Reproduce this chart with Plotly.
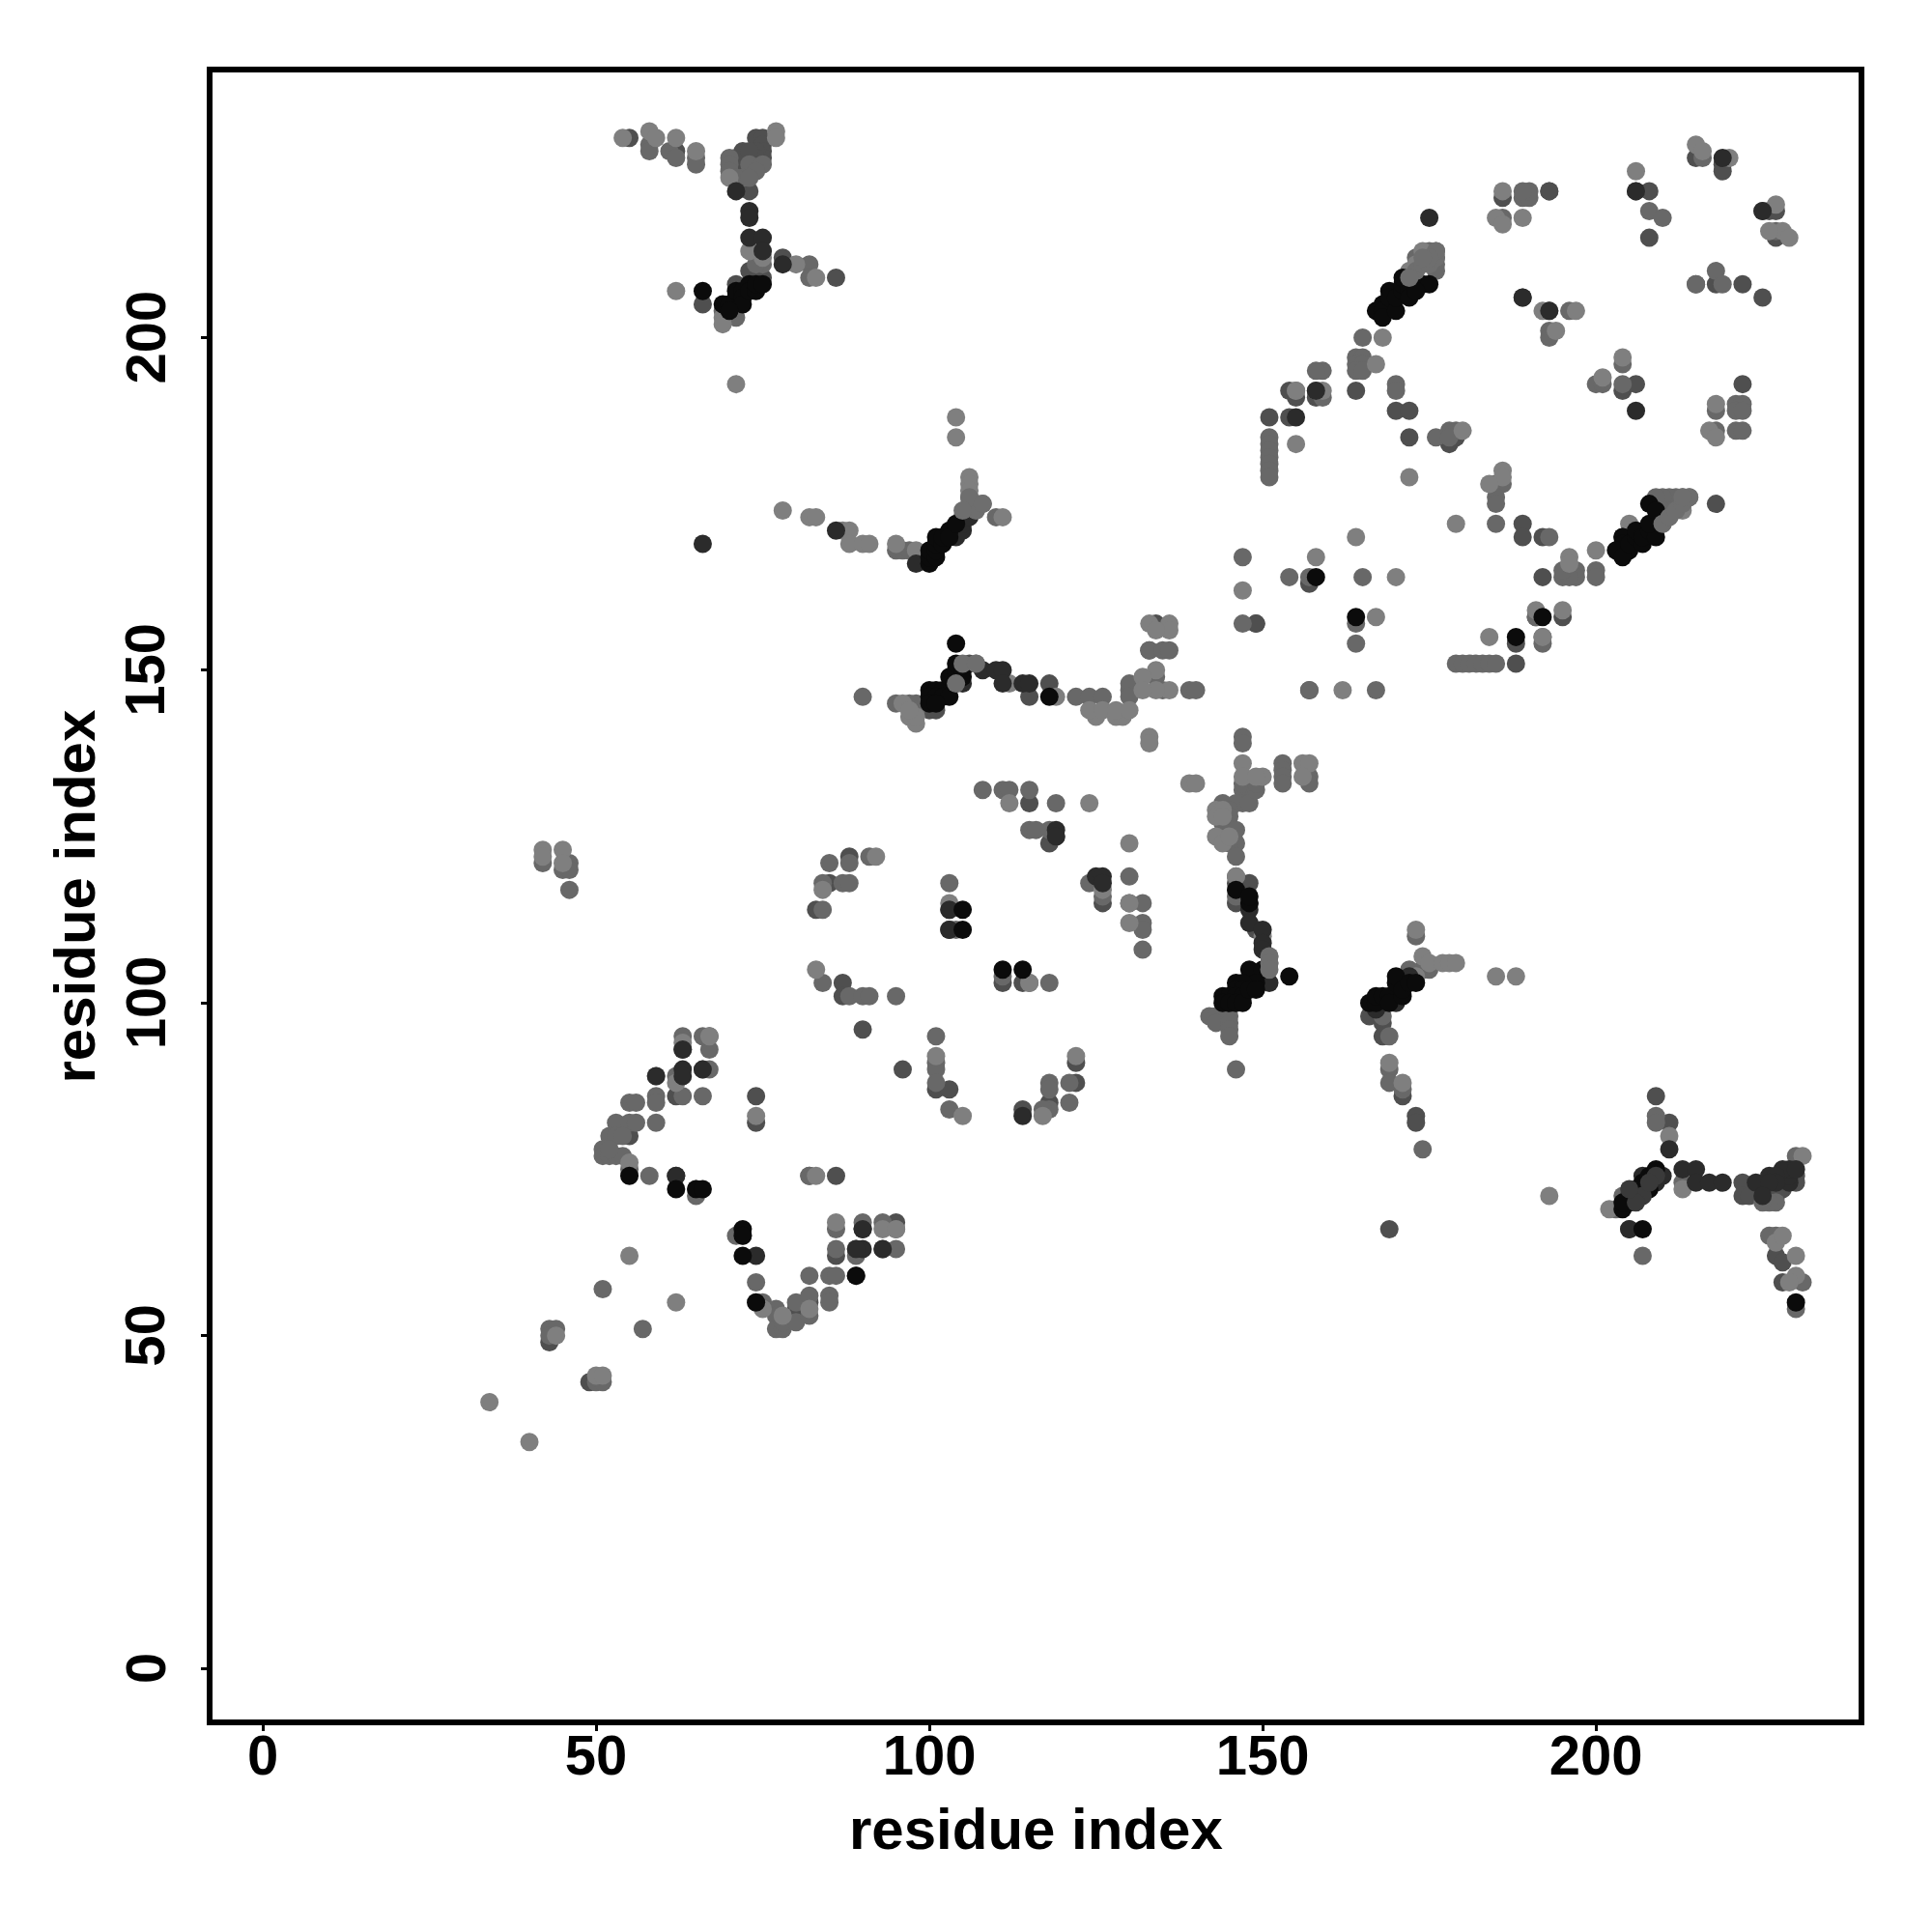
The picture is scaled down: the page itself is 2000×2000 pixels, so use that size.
import plotly.graph_objects as go

tick_values = [0, 50, 100, 150, 200]
tick_labels = ["0", "50", "100", "150", "200"]
axis_label = "residue index"

# (residue i, residue j) contacts, grouped by grey level of the dot
dark_mid = [
 (55,230),(62,228),(86,209),(78,212),(74,230),(75,230),(75,229),(75,228),(75,227),(74,228),(74,227),(71,225),(73,225),(73,210),(75,209),(71,208),(66,205),(71,227),(73,222),
 (71,226),(72,226),(72,227),(72,228),(73,228),
 (133,153),(134,157),(118,148),(115,146),(106,151),(100,144),(101,144),(149,157),(115,130),(118,124),(126,115),(130,115),(103,114),(103,111),(111,103),(114,103),(88,122),(85,118),(83,114),(87,103),(87,101),
 (90,96),(96,90),(101,87),(103,87),(114,84),(118,85),(122,88),(122,91),(63,93),(67,95),(62,86),(74,86),(74,82),(82,74),(86,74),(55,80),(54,81),(62,74),
 (86,62),(90,66),(95,67),(80,54),(82,55),(80,53),(43,49),(49,43),(146,118),(148,118),(146,115),(149,111),(173,83),(173,82),(171,86),(166,98),(168,97),(168,95),(169,66),(205,66),
 (209,86),(211,82),(222,73),(222,71),(223,71),(227,62),(228,61),(228,58),(230,74),(230,73),(226,72),(228,72),(227,71),(186,221),(193,222),(206,222),(208,222),(208,215),(215,227),(219,226),(219,225),(225,219),(226,219),(227,219),(227,215),
 (215,208),(218,208),(222,208),(225,206),(164,192),(154,192),(155,191),(158,191),(151,188),(154,188),(172,185),(170,189),(172,189),(193,222),(189,206),(189,172),(189,170),(192,170),(192,164),(204,192),(206,193),(222,193),(218,175),(178,184),(179,185),(185,178),(157,163),(149,157),(188,151),(191,158),(195,158),(188,154),(157,147)
]
mid = [
 (58,229),(58,228),(61,228),(62,227),(65,227),(65,226),(70,227),(70,226),(70,225),(82,211),(82,209),(71,203),(73,226),(75,226),(74,225),(72,224),(71,224),(75,211),(74,211),(69,204),(73,224),
 (90,146),(95,145),(97,145),(98,145),(98,144),(133,153),(135,153),(136,153),(122,146),(124,146),(126,146),(130,147),(130,148),(130,146),(139,147),(140,147),(134,149),(135,147),(147,157),(147,140),(147,139),
 (95,168),(96,168),(97,168),(106,176),(108,175),(110,173),
 (108,132),(111,132),(112,132),(115,132),(119,130),(115,126),(116,126),(118,126),(119,125),(103,118),(126,116),(124,118),(130,119),(132,115),(132,112),(132,111),(132,108),(103,111),(104,111),(111,104),(115,103),(118,103),
 (88,121),(85,121),(91,122),(84,118),(87,118),(88,118),(84,114),(84,103),(88,101),(90,101),(91,101),(95,101),(101,91),(101,90),(101,88),(103,84),(118,84),(118,88),(118,87),(121,85),(121,88),(101,95),(117,84),
 (42,121),(45,120),(46,121),(46,120),(46,117),(63,95),(66,95),(67,93),(62,89),(67,90),(59,86),(59,85),(63,86),(66,86),(55,85),(56,85),(53,82),(55,82),(56,82),(59,82),(52,80),(53,80),(54,80),(51,78),(51,77),(52,77),(53,77),(54,77),(52,78),(55,75),(58,74),(65,71),(82,74),(71,65),
 (74,58),(75,55),(77,54),(77,53),(77,51),(78,51),(78,52),(80,52),(80,55),(82,56),(82,53),(85,56),(85,55),(82,59),(85,59),(86,59),(86,66),(86,63),(89,62),(90,67),(93,67),(95,66),(93,63),(95,63),(51,57),(57,51),(43,51),(44,51),(43,50),(50,43),(51,43),
 (147,132),(147,133),(147,130),(146,130),(148,130),(149,132),(149,133),(153,136),(153,135),(153,134),(153,133),(157,134),(157,133),(144,130),(145,129),(145,128),(144,127),(146,126),(146,124),(145,124),(146,122),(146,119),(146,116),(148,115),(142,98),(143,98),(143,97),(145,98),(145,97),(145,96),(145,95),(146,90),
 (173,110),(174,105),(175,105),(172,105),(168,98),(169,95),(169,90),(169,88),(171,87),(174,78),(207,62),(204,71),(203,69),(209,83),(209,82),(213,73),(226,65),(227,65),(230,77),(231,58),(227,70),(226,70),(225,70),
 (186,218),(189,221),(190,221),(190,222),(189,222),(208,219),(210,218),(216,227),(215,208),(218,210),(219,208),(227,216),(176,211),(176,210),(176,212),(176,213),(175,213),(174,212),(173,212),(165,200),(164,197),(165,197),(164,196),(165,196),(164,195),(165,195),(159,195),(158,195),(155,192),(159,191),(151,185),(151,184),(151,183),(151,182),(151,181),(151,180),(151,179),(170,193),(170,192),(176,185),(178,186),(179,186),(178,185),(186,178),(185,176),(185,175),(185,172),(193,170),(196,204),(193,201),(193,200),(193,204),(204,196),(200,193),(201,193),(204,193),(221,190),(222,190),(221,189),(222,189),(218,189),(218,186),(221,186),(222,186),
 (213,175),(213,176),(212,176),(211,176),(210,176),(209,176),(211,174),(210,174),(200,165),(200,164),(196,165),(197,165),(195,164),(197,164),(196,164),(195,165),(147,167),(154,164),(157,164),(164,154),(164,157),(157,147),(179,151),(180,151),(181,151),(182,151),(183,151),(184,151),(185,151),(192,154),(192,155),(191,158),(167,147)
]
mid_extra = [(230,54),(165,164)]
light = [
 (54,230),(58,231),(59,230),(62,230),(65,228),(70,224),(77,231),(77,230),(73,213),(80,211),(83,209),(69,203),(69,202),(62,207),(71,193),(75,212),(78,174),(82,173),(83,173),(87,171),(88,171),(88,169),(90,169),(91,169),(95,169),
 (133,157),(136,157),(136,156),(134,156),(134,150),(136,147),(134,147),(132,149),(132,147),(133,140),(133,139),(98,142),(97,143),(98,143),(96,145),(97,144),(125,143),(128,143),(129,143),(124,144),(126,144),(128,144),(130,144),(107,151),(112,148),(119,146),
 (98,168),(104,188),(104,185),(106,179),(106,178),(106,177),(111,173),(112,130),(124,130),(139,133),(140,133),(130,124),(130,115),(130,112),(103,115),(115,103),(126,117),(92,122),(83,105),(84,117),(105,83),(122,92),(117,83),(101,92),
 (42,123),(42,122),(45,123),(45,121),(63,94),(59,89),(67,95),(66,90),(62,88),(74,83),(83,74),(55,76),(65,72),(55,62),(62,55),(40,34),(34,40),(44,50),(50,44),(51,44),(72,65),(74,55),(75,54),(78,53),(82,54),(86,67),(89,63),(93,66),(95,66),
 (147,136),(147,134),(150,134),(149,134),(156,136),(157,136),(156,134),(143,129),(144,129),(143,128),(144,128),(143,125),(144,124),(145,125),(146,119),(150,110),(151,107),(151,106),
 (173,111),(174,107),(175,106),(177,106),(178,106),(179,106),(185,104),(188,104),(173,104),(169,91),(171,88),(193,71),(202,69),(211,80),(227,64),(228,65),(230,62),(230,59),(231,77),(229,58),(213,72),
 (186,222),(185,218),(189,218),(186,217),(206,225),(215,229),(216,228),(220,227),(227,220),(228,216),(229,215),(226,216),(174,213),(173,211),(172,210),(168,200),(167,196),(155,192),(158,192),(159,192),(155,184),(172,179),(180,186),(186,180),(186,179),(184,178),(179,172),(197,204),(192,204),(194,201),(204,197),(201,194),(217,186),(218,185),(218,190),(214,176),(213,174),(200,168),(196,167),(196,166),(147,162),(158,167),(164,170),(170,164),(167,158),(162,147),(184,155),(192,155),(191,159),(195,159),(205,172),(210,172)
]
dark = [
 (71,222),(73,219),(73,218),(73,215),(75,215),(75,213),(78,211),(66,169),(86,171),
 (105,148),(108,150),(110,150),(111,150),(111,148),(114,148),(115,148),(98,166),(119,126),(119,125),(125,119),(126,119),(126,118),(103,114),(103,111),(114,83),(63,93),(59,89),(63,90),(63,89),(66,90),(62,74),(74,62),(89,59),(90,63),(89,63),(93,63),(90,66),
 (148,114),(148,112),(150,111),(150,109),(150,108),(149,104),(151,103),(167,99),(168,100),(170,100),(175,218),(219,227),(206,222),(225,219),(193,204),(189,206),(158,192),(155,188),(206,189),(171,102),(172,104),(204,170),(207,74),(209,73),(210,74),(211,78),(213,75),(215,75),(215,73),(217,73),(219,73),(224,73),(226,74),(228,74),(229,73),(205,66),
 (104,170),(105,171),(105,172),(105,173),(106,173),(106,174),(229,74),(229,75),(228,75),(230,75),(227,74),(227,73),(226,73),(225,71)
]
black = [
 (66,207),(69,205),(70,205),(71,206),(71,207),(72,207),(72,206),(72,205),(73,208),(73,207),(74,207),(74,208),(75,208),(70,204),
 (104,154),(100,147),(101,147),(102,147),(100,146),(101,146),(102,146),(103,146),(100,145),(101,145),(103,149),(104,149),(104,150),(104,151),(105,150),(105,149),(118,146),(104,148),
 (100,166),(100,167),(100,168),(101,167),(101,168),(101,169),(101,170),(102,169),(102,170),(103,171),(103,170),(104,172),
 (105,114),(105,111),(111,105),(114,105),(55,74),(62,72),(65,72),(66,72),(72,66),(72,65),(72,62),(74,55),(89,59),
 (148,115),(148,105),(154,104),(150,105),(149,103),(146,103),(147,103),(146,102),(147,102),(144,101),(145,101),(146,101),(147,101),(144,100),(145,100),(146,100),(147,100),(148,102),(149,102),(146,117),(148,116),
 (166,100),(167,100),(167,101),(168,101),(169,101),(169,100),(170,103),(170,104),(171,101),(171,102),(172,103),(173,103),
 (207,66),(204,69),(205,70),(205,71),(206,72),(206,71),(207,72),(207,73),(208,72),(208,74),(209,75),(204,70),
 (167,204),(168,205),(168,204),(168,203),(169,207),(169,206),(170,204),(170,206),(171,207),(171,208),(171,209),(172,207),(172,206),(173,208),(174,208),(175,208),(173,207),
 (204,170),(204,169),(203,168),(205,168),(204,167),(205,169),(206,170),(206,171),(207,169),(207,170),(208,171),(209,170),(208,172),(208,175),(209,174),(158,164),(164,158),(188,155),(192,158),(230,55)
]
# dots that sit on top of the dark diagonals
dark_overlay = [(207,71),(209,74),(208,73),(206,70),(205,72)]
mid_overlay = [
 (210,172),(211,173),(212,174),(213,175),(214,176),(213,176),
 (173,210),(174,211),(175,211),(176,212),(176,213),(175,212),(174,212),(172,209),
 (106,175),(107,175),(107,174),(106,176),(105,174),(108,175),
 (105,151),(107,151),(104,148),(151,107),(151,106),(151,105)
]

series = [(dark_mid, "#4f4f4f"), (mid, "#686868"), (mid_extra, "#686868"), (light, "#7f7f7f"), (dark, "#2b2b2b"),
          (black, "#0b0b0b"), (dark_overlay, "#3a3a3a"), (mid_overlay, "#6e6e6e")]

fig = go.Figure()
for pts, colour in series:
    fig.add_trace(go.Scatter(
        x=[p[0] for p in pts], y=[p[1] for p in pts], mode="markers",
        marker=dict(size=19, color=colour, line=dict(width=0)),
        showlegend=False, hoverinfo="skip"))

font_bold = dict(family="Liberation Sans", size=58, color="black", weight="bold")
title_font = dict(family="Liberation Sans", size=60, color="black", weight="bold")
common = dict(tickmode="array", tickvals=tick_values, ticktext=tick_labels, ticks="outside", ticklen=6, tickwidth=3,
              tickcolor="black", showline=True, linewidth=6, linecolor="black", mirror=True,
              showgrid=False, zeroline=False, tickfont=font_bold)
fig.update_xaxes(**common, range=[-7.54, 239.4], ticklabelstandoff=-25)
fig.update_yaxes(**common, range=[-7.69, 239.84], showticklabels=False)
for v, t in zip(tick_values, tick_labels):
    fig.add_annotation(text=t, x=0, xref="paper", y=v, yref="y", textangle=-90, showarrow=False,
                       xanchor="center", yanchor="middle", xshift=-70, font=font_bold)
fig.add_annotation(text=axis_label, x=0, xref="paper", y=0.5, yref="paper", textangle=-90, showarrow=False,
                   xanchor="center", yanchor="middle", xshift=-143, yshift=-1, font=title_font)
fig.add_annotation(text=axis_label, x=0.5, xref="paper", y=0, yref="paper", showarrow=False,
                   xanchor="center", yanchor="middle", yshift=-113, font=title_font)
fig.update_layout(width=2000, height=2000, autosize=False, paper_bgcolor="white", plot_bgcolor="white",
                  margin=dict(l=220, r=76, t=75, b=220, pad=0))
fig.write_html("out.html", config={"displayModeBar": False}, post_script="document.body.style.margin='0';")
